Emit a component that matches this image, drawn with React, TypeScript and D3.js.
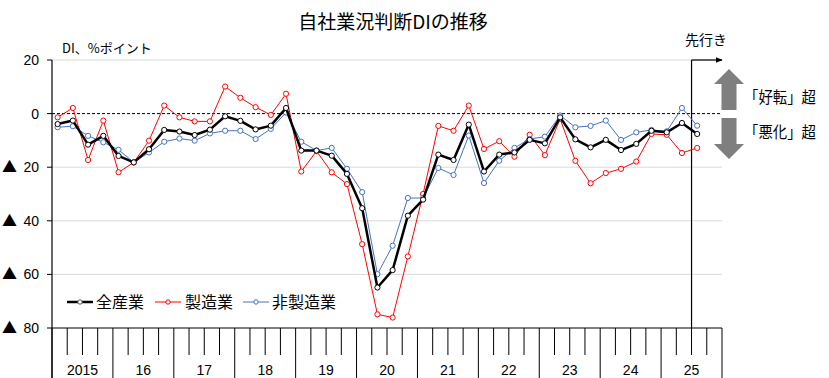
import React from "react";
import * as d3 from "d3";

const years = ["2015", "16", "17", "18", "19", "20", "21", "22", "23", "24", "25"];
const quartersPerYear = 4;

const allIndustry = [
  -3.9, -2.6, -11.6, -8.3, -15.8, -18.2, -13.3, -6.1, -6.7, -8.0, -6.0, -1.0, -2.7, -5.9, -4.5, 2.1,
  -13.8, -13.8, -15.7, -22.5, -35.3, -64.9, -58.4, -38.1, -32.1, -15.3, -17.3, -4.1, -21.6, -15.3, -14.5, -9.8,
  -11.1, -1.4, -9.6, -12.6, -9.8, -13.6, -11.3, -6.4, -7.0, -3.5, -7.6,
];
const manufacturing = [
  -1.4, 2.1, -17.3, -2.6, -21.9, -18.2, -10.1, 3.0, -1.4, -2.9, -2.9, 10.1, 5.9, 2.4, -0.5, 7.4,
  -21.6, -14.0, -21.9, -26.3, -48.7, -74.9, -76.1, -53.3, -30.0, -4.6, -6.4, 3.0, -13.2, -10.3, -16.1, -7.9,
  -15.5, -2.0, -17.6, -26.0, -22.2, -20.6, -17.9, -7.6, -7.9, -14.7, -12.8,
];
const nonManufacturing = [
  -5.1, -4.7, -8.3, -10.7, -13.5, -18.2, -14.5, -10.5, -9.3, -10.1, -7.4, -6.4, -6.4, -9.5, -5.7, 0.4,
  -10.5, -13.8, -12.8, -20.6, -29.3, -59.9, -49.3, -31.5, -31.5, -20.3, -22.9, -8.2, -25.9, -17.6, -12.8, -9.5,
  -8.6, -0.7, -5.1, -4.6, -2.6, -9.8, -7.0, -6.1, -6.6, 2.1, -4.5,
];
const seriesNames = ["全産業", "製造業", "非製造業"];
const yTicks = [20, 0, -20, -40, -60, -80];
const forecastIndex = 42;
const sideLabels = ["「好転」超", "「悪化」超"];

const W = 829;
const H = 378;
const L = 52;
const R = 722;
const T = 60;
const B = 328;
const jp = "'Noto Sans CJK JP', 'Noto Sans', sans-serif";
const num = "'Liberation Sans', Arial, sans-serif";

export default function App() {
  const nSlots = years.length * quartersPerYear;
  const x = d3.scaleBand<number>().domain(d3.range(nSlots)).range([L, R]).padding(0);
  const bw = x.bandwidth();
  const px = (i: number) => (x(i) as number) + bw * 0.37;
  const y = d3.scaleLinear().domain([-80, 20]).range([B, T]);

  const series = [
    { name: seriesNames[0], data: allIndustry, color: "#000000", width: 2.5 },
    { name: seriesNames[1], data: manufacturing, color: "#ff0000", width: 1 },
    { name: seriesNames[2], data: nonManufacturing, color: "#4472c4", width: 1 },
  ];
  const line = d3
    .line<number>()
    .x((_, i) => px(i))
    .y((d) => y(d));

  const drawOrder = [series[1], series[2], series[0]];
  const fx = x(forecastIndex) as number;

  const legendItems = [
    { s: series[0], lx: 67, tx: 96 },
    { s: series[1], lx: 155, tx: 185 },
    { s: series[2], lx: 243, tx: 272 },
  ];

  return (
    <svg width={W} height={H} style={{ position: "absolute", left: 0, top: 0, background: "#fff" }}>
      <defs>
        <marker id="ah" viewBox="0 0 10 10" refX="9" refY="5" markerWidth="7" markerHeight="7" orient="auto" markerUnits="userSpaceOnUse">
          <path d="M0,1 L10,5 L0,9 z" fill="#000" />
        </marker>
      </defs>
      <text x={393} y={29} textAnchor="middle" fontFamily={jp} fontSize={19} fill="#000">
        自社業況判断DIの推移
      </text>
      <text x={62} y={53} fontFamily={jp} fontSize={13} fill="#000">
        DI、%ポイント
      </text>
      <text x={685} y={45} fontFamily={jp} fontSize={14} fill="#000">
        先行き
      </text>

      {/* grid */}
      {yTicks
        .filter((t) => t !== 0 && t !== -80)
        .map((t) => (
          <line key={t} x1={L} x2={R} y1={y(t)} y2={y(t)} stroke="#d9d9d9" strokeWidth={1} />
        ))}
      <line x1={L} x2={R} y1={y(0)} y2={y(0)} stroke="#000" strokeWidth={1} strokeDasharray="3,2" />

      {/* y axis */}
      <line x1={L} x2={L} y1={T} y2={H} stroke="#000" strokeWidth={1.2} />
      {yTicks.map((t) => (
        <g key={t}>
          <line x1={L - 5} x2={L} y1={y(t)} y2={y(t)} stroke="#000" />
          <text x={39} y={y(t) + 5} textAnchor="end" fontFamily={num} fontSize={14} fill="#000">
            {Math.abs(t)}
          </text>
          {t < 0 && (
            <text x={2} y={y(t) + 5} fontFamily={jp} fontSize={15} fill="#000">
              ▲
            </text>
          )}
        </g>
      ))}

      {/* x axis */}
      <line x1={L} x2={R} y1={B} y2={B} stroke="#000" strokeWidth={1.2} />
      {d3.range(nSlots + 1).map((i) => {
        const xx = i < nSlots ? (x(i) as number) : R;
        const major = i % quartersPerYear === 0;
        return <line key={i} x1={xx} x2={xx} y1={B} y2={major ? H : B + 27} stroke="#000" strokeWidth={1} />;
      })}
      {years.map((yr, j) => (
        <text
          key={yr}
          x={(x(j * quartersPerYear) as number) + bw * 2}
          y={375}
          textAnchor="middle"
          fontFamily={num}
          fontSize={14}
          fill="#000"
        >
          {yr}
        </text>
      ))}

      {/* forecast line */}
      <line x1={fx} x2={fx} y1={B} y2={T} stroke="#000" strokeWidth={1.2} />
      <line x1={fx} x2={R} y1={T} y2={T} stroke="#000" strokeWidth={1.2} markerEnd="url(#ah)" />

      {/* big arrows */}
      <path d="M729,69 L744,84 L736.5,84 L736.5,110 L721.5,110 L721.5,84 L714,84 Z" fill="#7f7f7f" />
      <path d="M729,159 L744,144 L736.5,144 L736.5,118 L721.5,118 L721.5,144 L714,144 Z" fill="#7f7f7f" />
      {sideLabels.map((label, i) => (
        <text
          key={label}
          x={744}
          y={103 + i * 34.5}
          fontFamily={jp}
          fontSize={16}
          fill="#000"
          textLength={72}
          lengthAdjust="spacingAndGlyphs"
        >
          {label}
        </text>
      ))}

      {/* series */}
      {drawOrder.map((s) => (
        <g key={s.name}>
          <path d={line(s.data) as string} fill="none" stroke={s.color} strokeWidth={s.width} strokeLinejoin="round" />
          {s.data.map((v, i) => (
            <circle key={i} cx={px(i)} cy={y(v)} r={2.6} fill="#fff" stroke={s.color} strokeWidth={1} />
          ))}
        </g>
      ))}

      {/* legend */}
      {legendItems.map(({ s, lx, tx }) => (
        <g key={s.name}>
          <line x1={lx} x2={lx + 26} y1={302} y2={302} stroke={s.color} strokeWidth={s.width} />
          <circle cx={lx + 13} cy={302} r={2.2} fill="#fff" stroke={s.color === "#000000" ? "#555" : s.color} strokeWidth={1} />
          <text x={tx} y={308} fontFamily={jp} fontSize={16} fill="#000">
            {s.name}
          </text>
        </g>
      ))}
    </svg>
  );
}
